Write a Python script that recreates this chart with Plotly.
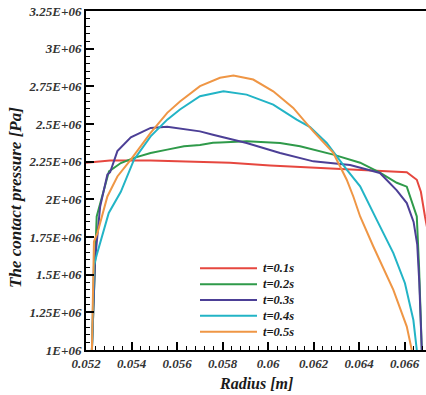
import plotly.graph_objects as go

# ---------------- data ----------------
series_names = ["t=0.1s", "t=0.2s", "t=0.3s", "t=0.4s", "t=0.5s"]
series_colors = ["#e6473f", "#2f9a4a", "#4c3f96", "#22b4c6", "#ef9645"]

x_t01 = [0.05200, 0.05306, 0.05484, 0.05657, 0.05833, 0.06009, 0.06185, 0.06361,
         0.06536, 0.06610, 0.06654, 0.06672, 0.06690, 0.06720]
y_t01 = [2.243e6, 2.257e6, 2.257e6, 2.250e6, 2.243e6, 2.225e6, 2.212e6, 2.200e6,
         2.186e6, 2.180e6, 2.130e6, 2.050e6, 1.886e6, 1.650e6]

x_t02 = [0.05226, 0.05247, 0.05301, 0.05353, 0.05411, 0.05484, 0.05557, 0.05631,
         0.05701, 0.05758, 0.05789, 0.05906, 0.06053, 0.06141, 0.06287, 0.06405,
         0.06492, 0.06566, 0.06610, 0.06654, 0.06664, 0.06676]
y_t02 = [1.000e6, 1.886e6, 2.186e6, 2.241e6, 2.275e6, 2.308e6, 2.330e6, 2.352e6,
         2.360e6, 2.375e6, 2.378e6, 2.385e6, 2.374e6, 2.352e6, 2.297e6, 2.243e6,
         2.177e6, 2.110e6, 2.084e6, 1.886e6, 1.550e6, 1.000e6]

x_t03 = [0.05226, 0.05240, 0.05262, 0.05294, 0.05306, 0.05338, 0.05397, 0.05484,
         0.05557, 0.05631, 0.05701, 0.05758, 0.05906, 0.06053, 0.06199, 0.06361,
         0.06492, 0.06566, 0.06610, 0.06640, 0.06656, 0.06665, 0.06676]
y_t03 = [1.000e6, 1.600e6, 1.950e6, 2.164e6, 2.180e6, 2.320e6, 2.412e6, 2.474e6,
         2.481e6, 2.467e6, 2.451e6, 2.429e6, 2.374e6, 2.308e6, 2.252e6, 2.228e6,
         2.175e6, 2.060e6, 1.975e6, 1.850e6, 1.700e6, 1.450e6, 1.000e6]

x_t04 = [0.05226, 0.05235, 0.05247, 0.05300, 0.05353, 0.05411, 0.05484, 0.05557,
         0.05613, 0.05701, 0.05804, 0.05906, 0.06023, 0.06126, 0.06185, 0.06258,
         0.06346, 0.06405, 0.06478, 0.06551, 0.06602, 0.06639, 0.06654]
y_t04 = [1.000e6, 1.560e6, 1.630e6, 1.910e6, 2.050e6, 2.263e6, 2.418e6, 2.529e6,
         2.596e6, 2.684e6, 2.717e6, 2.695e6, 2.629e6, 2.529e6, 2.480e6, 2.374e6,
         2.197e6, 2.086e6, 1.864e6, 1.643e6, 1.443e6, 1.199e6, 1.000e6]

x_t05 = [0.05226, 0.05235, 0.05250, 0.05294, 0.05338, 0.05397, 0.05484, 0.05557,
         0.05613, 0.05701, 0.05789, 0.05848, 0.05935, 0.06023, 0.06111, 0.06199,
         0.06287, 0.06346, 0.06375, 0.06405, 0.06463, 0.06551, 0.06610, 0.06632]
y_t05 = [1.000e6, 1.720e6, 1.776e6, 2.019e6, 2.152e6, 2.263e6, 2.441e6, 2.574e6,
         2.650e6, 2.751e6, 2.807e6, 2.822e6, 2.795e6, 2.717e6, 2.607e6, 2.451e6,
         2.308e6, 2.130e6, 2.019e6, 1.886e6, 1.687e6, 1.399e6, 1.155e6, 1.000e6]

xs = [x_t01, x_t02, x_t03, x_t04, x_t05]
ys = [y_t01, y_t02, y_t03, y_t04, y_t05]

x_tick_vals = [0.052, 0.054, 0.056, 0.058, 0.060, 0.062, 0.064, 0.066]
x_tick_text = ["0.052", "0.054", "0.056", "0.058", "0.06", "0.062", "0.064", "0.066"]
y_tick_vals = [1.0e6, 1.25e6, 1.5e6, 1.75e6, 2.0e6, 2.25e6, 2.5e6, 2.75e6, 3.0e6, 3.25e6]
y_tick_text = ["1E+06", "1.25E+06", "1.5E+06", "1.75E+06", "2E+06", "2.25E+06",
               "2.5E+06", "2.75E+06", "3E+06", "3.25E+06"]

x_title = "Radius [m]"
y_title = "The contact pressure [Pa]"

# ---------------- figure ----------------
W, H = 426, 395
ML, MR, MT, MB = 86, 0, 11, 45
FONT = "Liberation Serif"

fig = go.Figure()
for name, col, xv, yv in zip(series_names, series_colors, xs, ys):
    fig.add_trace(go.Scatter(x=xv, y=yv, mode="lines", name=name,
                             line=dict(color=col, width=2), showlegend=False,
                             cliponaxis=True))

plot_w = W - ML - MR
plot_h = H - MT - MB
def px_to_paper_x(px):
    return (px - ML) / plot_w
def py_to_paper_y(py):
    return (H - MB - py) / plot_h

# manual legend (long line samples like the reference)
leg_top = 268.3
leg_step = 15.85
for i, (name, col) in enumerate(zip(series_names, series_colors)):
    yy = py_to_paper_y(leg_top + i * leg_step)
    fig.add_shape(type="line", xref="paper", yref="paper",
                  x0=px_to_paper_x(200), x1=px_to_paper_x(257), y0=yy, y1=yy,
                  line=dict(color=col, width=2))
    fig.add_annotation(xref="paper", yref="paper", x=px_to_paper_x(261), y=yy,
                       text=name, showarrow=False, xanchor="left", yanchor="middle",
                       font=dict(family=FONT, size=12.5, color="#1a1a1a", weight="bold",
                                 style="italic"))

fig.add_annotation(xref="paper", yref="paper", x=px_to_paper_x(15),
                   y=py_to_paper_y(198), text=y_title, textangle=-90,
                   showarrow=False, xanchor="center", yanchor="middle",
                   font=dict(family=FONT, size=17, color="#1a1a1a", weight="bold",
                             style="italic"))
fig.add_annotation(xref="paper", yref="paper", x=px_to_paper_x(256),
                   y=py_to_paper_y(383), text=x_title,
                   showarrow=False, xanchor="center", yanchor="middle",
                   font=dict(family=FONT, size=16, color="#1a1a1a", weight="bold",
                             style="italic"))

tick_font = dict(family=FONT, size=13, color="#333", weight="bold", style="italic")

fig.update_xaxes(range=[0.052, 0.052 + plot_w / 45.5 * 0.002],
                 tickvals=x_tick_vals, ticktext=x_tick_text,
                 ticks="inside", ticklen=8, tickwidth=1.5, tickcolor="black",
                 showline=True, linecolor="black", linewidth=2, mirror=True,
                 showgrid=False, zeroline=False, tickfont=tick_font,
                 minor=dict(ticks="inside", ticklen=4, tickwidth=1, tickcolor="black",
                            tick0=0.052, dtick=0.0004, showgrid=False))
fig.update_yaxes(range=[1.0e6, 3.25e6],
                 tickvals=y_tick_vals, ticktext=y_tick_text,
                 ticks="inside", ticklen=8, tickwidth=1.5, tickcolor="black",
                 showline=True, linecolor="black", linewidth=2, mirror=False,
                 showgrid=False, zeroline=False, tickfont=tick_font,
                 minor=dict(ticks="inside", ticklen=4, tickwidth=1, tickcolor="black",
                            tick0=1.0e6, dtick=0.05e6, showgrid=False))

fig.update_layout(width=W, height=H, margin=dict(l=ML, r=MR, t=MT, b=MB),
                  paper_bgcolor="white", plot_bgcolor="white", showlegend=False)

fig.write_html("out.html", config={"displayModeBar": False},
               post_script="document.body.style.margin='0';"
                           "document.body.style.overflow='hidden';")
